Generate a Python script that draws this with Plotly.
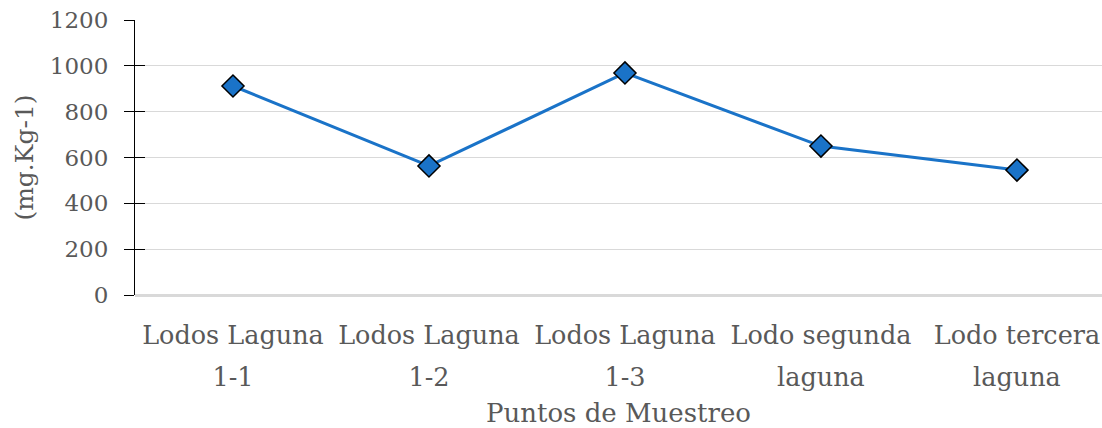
import plotly.graph_objects as go

categories = ["Lodos Laguna 1-1", "Lodos Laguna 1-2", "Lodos Laguna 1-3",
              "Lodo segunda laguna", "Lodo tercera laguna"]
label_line1 = ["Lodos Laguna", "Lodos Laguna", "Lodos Laguna", "Lodo segunda", "Lodo tercera"]
label_line2 = ["1-1", "1-2", "1-3", "laguna", "laguna"]
values = [912, 563, 969, 650, 545]
y_ticks = [0, 200, 400, 600, 800, 1000, 1200]

FONT = "DejaVu Serif"
GRAY = "#595959"
BLUE = "#1A73C8"

fig = go.Figure()
fig.add_trace(go.Scatter(
    x=categories, y=values, mode="lines+markers",
    line=dict(color=BLUE, width=3),
    marker=dict(symbol="diamond", size=17, color=BLUE,
                line=dict(color="black", width=1.5)),
    showlegend=False,
))
# invisible trace on overlay axes for inside tick marks / second label line
fig.add_trace(go.Scatter(x=categories, y=values, xaxis="x2", yaxis="y2", mode="none",
                         showlegend=False, hoverinfo="skip"))

xrange = [-0.5, 4.434]
fig.update_layout(
    width=1102, height=428,
    margin=dict(l=135, r=0, t=20, b=133),
    paper_bgcolor="white", plot_bgcolor="white",
    font=dict(family=FONT, color=GRAY, size=22),
    xaxis=dict(
        type="category", range=xrange, automargin=False,
        tickvals=categories, ticktext=label_line1,
        showgrid=False, showline=False, ticks="",
        zeroline=False, ticklabelstandoff=22,
        tickfont=dict(size=25.5, color=GRAY),
        title=dict(text="Puntos de Muestreo", font=dict(size=26, color=GRAY), standoff=61),
    ),
    xaxis2=dict(
        type="category", range=xrange, automargin=False, overlaying="x", side="bottom",
        tickvals=categories, ticktext=label_line2,
        showgrid=False, showline=False, ticks="", zeroline=False,
        ticklabelstandoff=64,
        tickfont=dict(size=25.5, color=GRAY),
    ),
    yaxis=dict(
        range=[0, 1200], tickvals=y_ticks, automargin=False,
        showgrid=True, gridcolor="#D9D9D9", gridwidth=1,
        zeroline=True, zerolinecolor="#D9D9D9", zerolinewidth=3,
        showline=True, linecolor="black", linewidth=1,
        ticks="outside", ticklen=10, tickcolor="black", tickwidth=1,
        ticklabelstandoff=11,
        tickfont=dict(size=23, color=GRAY),
        title=dict(text="(mg.Kg-1)", font=dict(size=25, color=GRAY), standoff=9),
    ),
    yaxis2=dict(
        range=[0, 1200], tickvals=y_ticks, overlaying="y", side="left", automargin=False,
        showgrid=False, zeroline=False, showline=False,
        ticks="inside", ticklen=10, tickcolor="black", tickwidth=1,
        showticklabels=False,
    ),
)

fig.write_html("out.html", config={"displayModeBar": False},
               post_script=("document.body.style.margin='0';"
                            "document.body.style.overflow='hidden';"
                            "document.documentElement.style.overflow='hidden';"))
